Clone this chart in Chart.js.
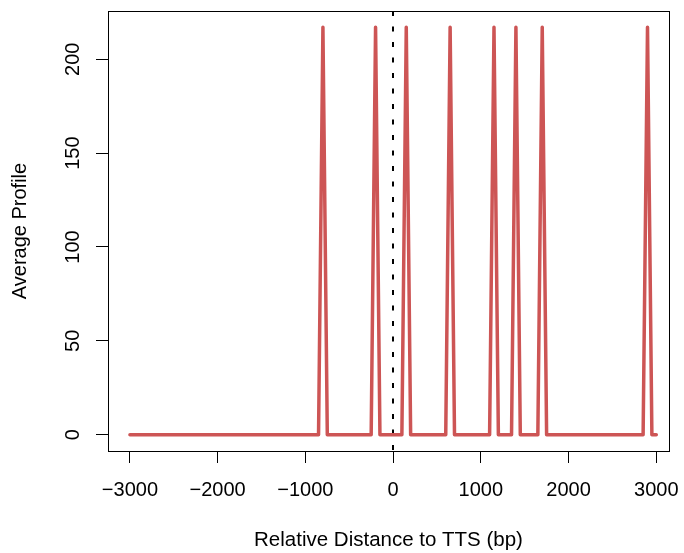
<!DOCTYPE html>
<html>
<head>
<meta charset="utf-8">
<script src="https://cdn.jsdelivr.net/npm/chart.js@4"></script>
<style>
  html, body { margin: 0; padding: 0; background: #fff; }
  #wrap { width: 684px; height: 553px; }
</style>
</head>
<body>
<div id="wrap"><canvas id="profileChart" width="684" height="553"></canvas></div>
<script>
// Profile corner points (bp, average profile)
const distances = [-3000, -850, -800, -750, -250, -200, -150, 100, 150, 200,
  600, 650, 700, 1100, 1150, 1200, 1350, 1400, 1450, 1650, 1700, 1750,
  2850, 2900, 2950, 3000];
const profile = [0, 0, 217, 0, 0, 217, 0, 0, 217, 0,
  0, 217, 0, 0, 217, 0, 0, 217, 0, 0, 217, 0,
  0, 217, 0, 0];
const xTicks = [-3000, -2000, -1000, 0, 1000, 2000, 3000];
const yTicks = [0, 50, 100, 150, 200];

const FONT = '"Liberation Sans", Arial, Helvetica, sans-serif';
const LINE_COLOR = '#CD5555';

const fmt = v => (v < 0 ? '\u2212' + Math.abs(v) : String(v));

// box around plot area, dashed line at TTS, rotated y tick labels (R style)
const rStyle = {
  id: 'rStyle',
  beforeDatasetsDraw(chart) {
    const { ctx, chartArea: a, scales } = chart;
    const x0 = Math.round(scales.x.getPixelForValue(0));
    ctx.save();
    ctx.strokeStyle = '#000';
    ctx.lineWidth = 2;
    ctx.setLineDash([5, 10.5]);
    ctx.beginPath();
    ctx.moveTo(x0, a.top);
    ctx.lineTo(x0, a.bottom);
    ctx.stroke();
    ctx.restore();
  },
  afterDraw(chart) {
    const { ctx, chartArea: a, scales } = chart;
    ctx.save();
    ctx.strokeStyle = '#000';
    ctx.lineWidth = 1;
    ctx.strokeRect(Math.round(a.left) + 0.5, Math.round(a.top) + 0.5,
      Math.round(a.right - a.left), Math.round(a.bottom - a.top));
    ctx.fillStyle = '#000';
    ctx.font = '20px ' + FONT;
    ctx.textAlign = 'center';
    ctx.textBaseline = 'middle';
    yTicks.forEach(v => {
      const y = scales.y.getPixelForValue(v);
      ctx.save();
      ctx.translate(73, y);
      ctx.rotate(-Math.PI / 2);
      ctx.fillText(String(v), 0, 0);
      ctx.restore();
    });
    ctx.restore();
  }
};

new Chart(document.getElementById('profileChart'), {
  type: 'line',
  data: {
    datasets: [{
      data: distances.map((d, i) => ({ x: d, y: profile[i] })),
      borderColor: LINE_COLOR,
      borderWidth: 3.5,
      pointRadius: 0,
      tension: 0,
      borderJoinStyle: 'round',
      borderCapStyle: 'round',
    }]
  },
  options: {
    responsive: false,
    animation: false,
    layout: { padding: { left: 0, right: 15, top: 11, bottom: 0 } },
    plugins: { legend: { display: false }, tooltip: { enabled: false } },
    scales: {
      x: {
        type: 'linear',
        min: -3250,
        max: 3145,
        afterBuildTicks: s => { s.ticks = xTicks.map(v => ({ value: v })); },
        afterFit: s => { s.height = 102; s.paddingLeft = 0; s.paddingRight = 0; },
        border: { display: false },
        grid: { drawOnChartArea: false, drawTicks: true, tickLength: 12, color: '#000', lineWidth: 1 },
        ticks: {
          color: '#000',
          font: { family: FONT, size: 20 },
          padding: 15,
          maxRotation: 0,
          autoSkip: false,
          callback: v => fmt(v),
        },
        title: {
          display: true,
          text: 'Relative Distance to TTS (bp)',
          color: '#000',
          font: { family: FONT, size: 20.5 },
          padding: { top: 0, bottom: 0 },
        }
      },
      y: {
        min: -8.68,
        max: 225.68,
        afterBuildTicks: s => { s.ticks = yTicks.map(v => ({ value: v })); },
        afterFit: s => { s.width = 108; s.paddingTop = 0; s.paddingBottom = 0; },
        border: { display: false },
        grid: { drawOnChartArea: false, drawTicks: true, tickLength: 12, color: '#000', lineWidth: 1 },
        ticks: { display: false },
        title: {
          display: true,
          text: 'Average Profile',
          color: '#000',
          font: { family: FONT, size: 20 },
          padding: { top: 8, bottom: 0 },
        }
      }
    }
  },
  plugins: [rStyle]
});
</script>
</body>
</html>
